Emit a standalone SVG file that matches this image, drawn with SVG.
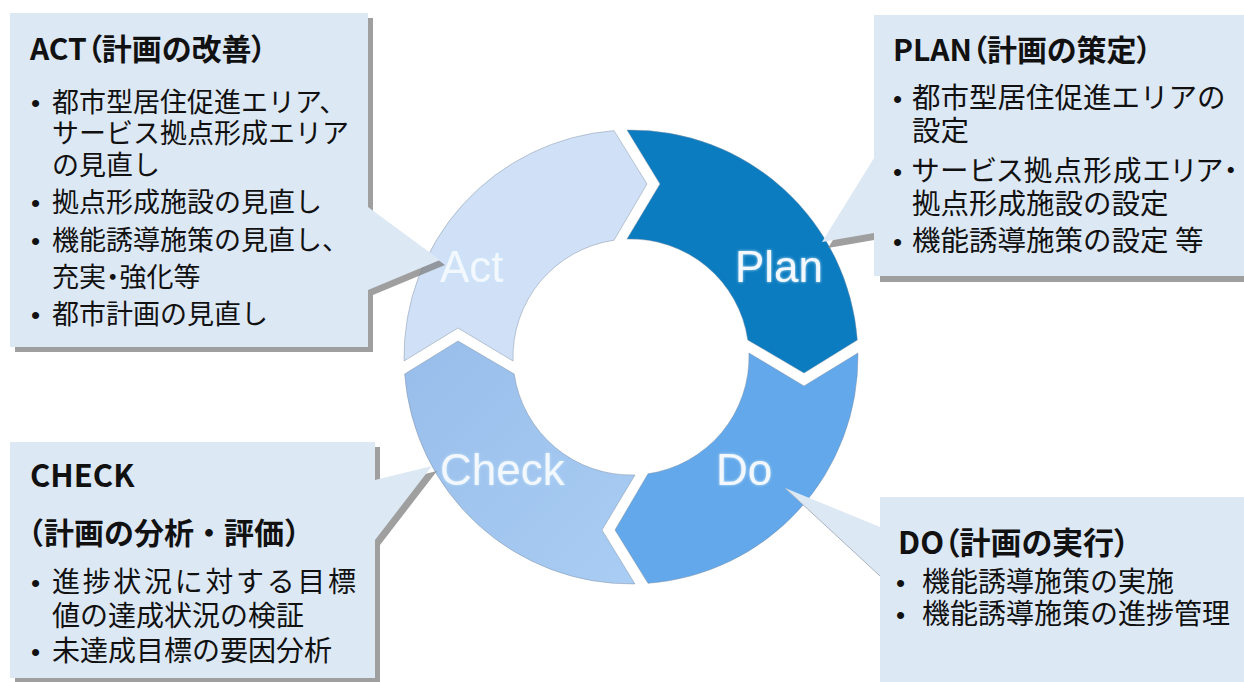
<svg xmlns="http://www.w3.org/2000/svg" width="1244" height="682" viewBox="0 0 1244 682">
<style>
.box{fill:#dde8f5}
.shadow{fill:#7a7a7a;opacity:.72}
.seg{stroke:#7f90a5;stroke-width:.8;stroke-opacity:.6}
.t{font-family:"Noto Sans CJK JP","Noto Sans",sans-serif;font-size:27px;fill:#111}
.title{font-weight:700;font-size:30px;font-feature-settings:"palt"}
.bu{font-family:"Liberation Sans",Arial,sans-serif;font-size:26px}
.lbl{font-family:"Liberation Sans",Arial,sans-serif;font-size:44px;fill:#f3f8fe;filter:url(#glow)}
</style>
<defs>
<filter id="glow" x="-20%" y="-30%" width="140%" height="160%">
<feGaussianBlur in="SourceAlpha" stdDeviation="1.4" result="b"/>
<feFlood flood-color="#c4e4fa" flood-opacity="0.9"/>
<feComposite in2="b" operator="in"/>
<feMerge><feMergeNode/><feMergeNode in="SourceGraphic"/></feMerge>
</filter>
<linearGradient id="gCheck" x1="0" y1="0" x2="1" y2="1">
<stop offset="0" stop-color="#98bdea"/><stop offset="1" stop-color="#a9cdf3"/>
</linearGradient>
</defs>
<rect width="1244" height="682" fill="#ffffff"/>

<g id="cycle">
<g id="seg-act">
<path class="seg" fill="#d0e1f7" d="M404.04 361 A227 227 0 0 1 614 130.64 L647 184 L614 240.23 A118 118 0 0 0 513.07 361 L458 328 Z"/>
<text class="lbl" x="440" y="282">Act</text>
</g>
<g id="seg-plan">
<path class="seg" fill="#0b7cc0" d="M627 130.04 A227 227 0 0 1 857.36 340 L804 373 L747.77 340 A118 118 0 0 0 627 239.07 L660 184 Z"/>
<text class="lbl" x="735" y="282">Plan</text>
</g>
<g id="seg-do">
<path class="seg" fill="#62a8ea" d="M857.96 353 A227 227 0 0 1 648 583.36 L615 530 L648 473.77 A118 118 0 0 0 748.93 353 L804 386 Z"/>
<text class="lbl" x="716" y="485">Do</text>
</g>
<g id="seg-check">
<path class="seg" fill="url(#gCheck)" d="M635 583.96 A227 227 0 0 1 404.64 374 L458 341 L514.23 374 A118 118 0 0 0 635 474.93 L602 530 Z"/>
<text class="lbl" x="440" y="485">Check</text>
</g>
</g>

<g id="connectors"></g>

<g id="callout-act">
<path class="shadow" transform="translate(5,5)" d="M10 13 H368 V207 L440 260 L368 290 V347 H10 Z"/>
<path class="box" d="M10 13 H368 V207 L440 260 L368 290 V347 H10 Z"/>
<text class="t title" x="30" y="60">ACT（計画の改善）</text>
<text class="t" x="31" y="112"><tspan class="bu">•</tspan><tspan x="52">都市型居住促進エリア、</tspan></text>
<text class="t" x="52" y="143">サービス拠点形成エリア</text>
<text class="t" x="52" y="175">の見直し</text>
<text class="t" x="31" y="212"><tspan class="bu">•</tspan><tspan x="52">拠点形成施設の見直し</tspan></text>
<text class="t" x="31" y="250"><tspan class="bu">•</tspan><tspan x="52">機能誘導施策の見直し、</tspan></text>
<text class="t" x="52" y="287" style="font-feature-settings:'palt'">充実・強化等</text>
<text class="t" x="31" y="324"><tspan class="bu">•</tspan><tspan x="52">都市計画の見直し</tspan></text>
</g>

<g id="callout-plan">
<path class="shadow" transform="translate(6,6)" d="M874 15 H1250 V276 H874 V233 L822 242 L874 158 Z"/>
<path class="box" d="M874 15 H1250 V276 H874 V233 L822 242 L874 158 Z"/>
<text class="t title" x="893" y="61">PLAN（計画の策定）</text>
<text class="t" x="893" y="108" style="font-size:28.5px"><tspan class="bu">•</tspan><tspan x="912">都市型居住促進エリアの</tspan></text>
<text class="t" x="912" y="141" style="font-size:28.5px">設定</text>
<text class="t" x="893" y="181" style="font-size:28.5px"><tspan class="bu">•</tspan><tspan x="912" textLength="326" lengthAdjust="spacing" style="font-feature-settings:'palt'">サービス拠点形成エリア・</tspan></text>
<text class="t" x="912" y="214" style="font-size:28.5px">拠点形成施設の設定</text>
<text class="t" x="893" y="251" style="font-size:28.5px"><tspan class="bu">•</tspan><tspan x="912">機能誘導施策の設定 等</tspan></text>
</g>

<g id="callout-check">
<path class="shadow" transform="translate(5,5)" d="M10 442 H375 V480 L432 466 L375 540 V678 H10 Z"/>
<path class="box" d="M10 442 H375 V480 L432 466 L375 540 V678 H10 Z"/>
<text class="t title" x="30" y="487" style="font-size:31px">CHECK</text>
<text class="t" x="14" y="544" style="font-weight:700;font-size:30px">（計画の分析・評価）</text>
<text class="t" x="31" y="592" style="font-size:28px"><tspan class="bu">•</tspan><tspan x="52" textLength="304" lengthAdjust="spacing">進捗状況に対する目標</tspan></text>
<text class="t" x="52" y="626" style="font-size:28px">値の達成状況の検証</text>
<text class="t" x="31" y="661" style="font-size:28px"><tspan class="bu">•</tspan><tspan x="52">未達成目標の要因分析</tspan></text>
</g>

<g id="callout-do">
<path class="box" d="M880 497 H1250 V690 H880 V576 L785 488 L880 527 Z"/>
<line x1="785" y1="488" x2="880" y2="576" stroke="#a9b3bf" stroke-width="1"/>
<text class="t title" x="898" y="554" style="font-size:31px">DO（計画の実行）</text>
<text class="t" x="896" y="592" style="font-size:28px"><tspan class="bu">•</tspan><tspan x="922">機能誘導施策の実施</tspan></text>
<text class="t" x="896" y="624" style="font-size:28px"><tspan class="bu">•</tspan><tspan x="922">機能誘導施策の進捗管理</tspan></text>
</g>
</svg>
